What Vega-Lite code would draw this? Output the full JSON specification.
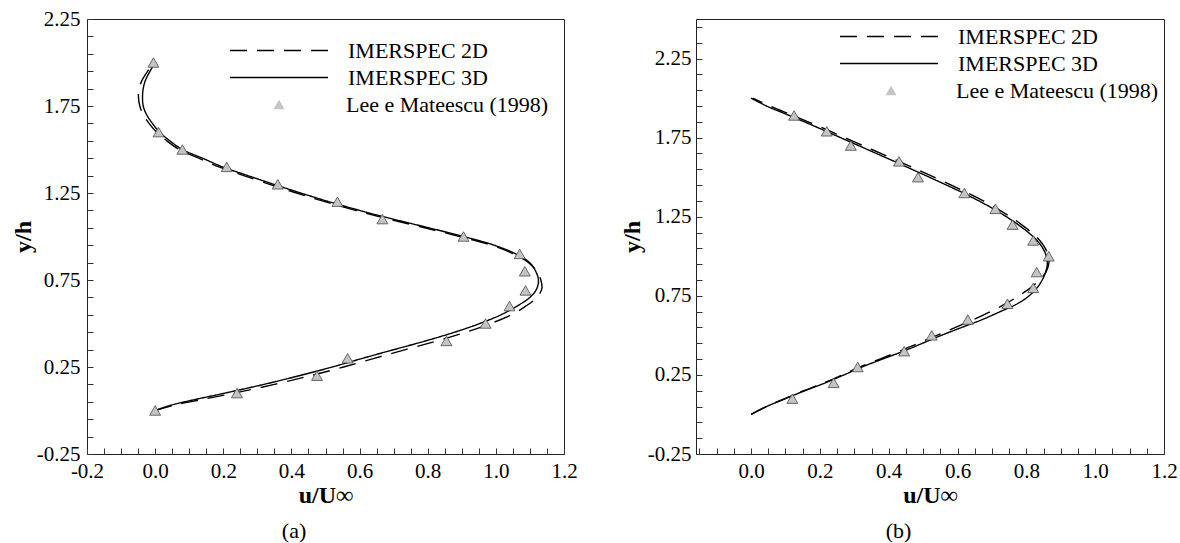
{
  "$schema": "https://vega.github.io/schema/vega-lite/v6.json",
  "padding": {"left": 10, "top": 7, "right": 5, "bottom": 5},
  "background": "white",
  "config": {
    "font": "Liberation Serif",
    "view": {"stroke": "#222222", "strokeWidth": 1},
    "axis": {"domain": false, "grid": false, "tickSize": -6, "tickColor": "#333333", "tickWidth": 1, "tickCount": 200,
      "labelFont": "Liberation Serif", "labelFontSize": 21, "labelColor": "#000000",
      "titleFont": "Liberation Serif", "titleFontSize": 24, "titleFontWeight": "bold", "titleColor": "#000000",
      "labelOverlap": false, "labelFlush": false},
    "legend": {"title": null, "orient": "none", "labelFont": "Liberation Serif", "labelFontSize": 22, "labelColor": "#000000", "labelLimit": 0, "padding": 0, "rowPadding": 0, "clipHeight": 27}
  },
  "datasets": {
    "a": [
      {"s":"IMERSPEC 3D","y":2.0,"u":0.0},{"s":"IMERSPEC 3D","y":1.95,"u":-0.015},{"s":"IMERSPEC 3D","y":1.9,"u":-0.028},{"s":"IMERSPEC 3D","y":1.85,"u":-0.035},{"s":"IMERSPEC 3D","y":1.8,"u":-0.037},{"s":"IMERSPEC 3D","y":1.75,"u":-0.035},{"s":"IMERSPEC 3D","y":1.7,"u":-0.025},{"s":"IMERSPEC 3D","y":1.65,"u":-0.008},{"s":"IMERSPEC 3D","y":1.6,"u":0.013},{"s":"IMERSPEC 3D","y":1.55,"u":0.043},{"s":"IMERSPEC 3D","y":1.5,"u":0.08},{"s":"IMERSPEC 3D","y":1.45,"u":0.139},{"s":"IMERSPEC 3D","y":1.4,"u":0.198},{"s":"IMERSPEC 3D","y":1.35,"u":0.272},{"s":"IMERSPEC 3D","y":1.3,"u":0.348},{"s":"IMERSPEC 3D","y":1.25,"u":0.427},{"s":"IMERSPEC 3D","y":1.2,"u":0.51},{"s":"IMERSPEC 3D","y":1.15,"u":0.6},{"s":"IMERSPEC 3D","y":1.1,"u":0.698},{"s":"IMERSPEC 3D","y":1.05,"u":0.803},{"s":"IMERSPEC 3D","y":1.0,"u":0.905},{"s":"IMERSPEC 3D","y":0.95,"u":0.995},{"s":"IMERSPEC 3D","y":0.9,"u":1.058},{"s":"IMERSPEC 3D","y":0.85,"u":1.099},{"s":"IMERSPEC 3D","y":0.8,"u":1.117},{"s":"IMERSPEC 3D","y":0.75,"u":1.125},{"s":"IMERSPEC 3D","y":0.7,"u":1.12},{"s":"IMERSPEC 3D","y":0.65,"u":1.1},{"s":"IMERSPEC 3D","y":0.6,"u":1.062},{"s":"IMERSPEC 3D","y":0.55,"u":1.015},{"s":"IMERSPEC 3D","y":0.5,"u":0.953},{"s":"IMERSPEC 3D","y":0.45,"u":0.879},{"s":"IMERSPEC 3D","y":0.4,"u":0.794},{"s":"IMERSPEC 3D","y":0.35,"u":0.701},{"s":"IMERSPEC 3D","y":0.3,"u":0.609},{"s":"IMERSPEC 3D","y":0.25,"u":0.52},{"s":"IMERSPEC 3D","y":0.2,"u":0.423},{"s":"IMERSPEC 3D","y":0.15,"u":0.319},{"s":"IMERSPEC 3D","y":0.1,"u":0.205},{"s":"IMERSPEC 3D","y":0.06,"u":0.11},{"s":"IMERSPEC 3D","y":0.03,"u":0.045},{"s":"IMERSPEC 3D","y":0.0,"u":0.0},
      {"s":"IMERSPEC 2D","y":2.0,"u":-0.003},{"s":"IMERSPEC 2D","y":1.95,"u":-0.022},{"s":"IMERSPEC 2D","y":1.9,"u":-0.038},{"s":"IMERSPEC 2D","y":1.85,"u":-0.047},{"s":"IMERSPEC 2D","y":1.8,"u":-0.049},{"s":"IMERSPEC 2D","y":1.75,"u":-0.045},{"s":"IMERSPEC 2D","y":1.7,"u":-0.035},{"s":"IMERSPEC 2D","y":1.65,"u":-0.018},{"s":"IMERSPEC 2D","y":1.6,"u":0.004},{"s":"IMERSPEC 2D","y":1.55,"u":0.034},{"s":"IMERSPEC 2D","y":1.5,"u":0.071},{"s":"IMERSPEC 2D","y":1.45,"u":0.128},{"s":"IMERSPEC 2D","y":1.4,"u":0.187},{"s":"IMERSPEC 2D","y":1.35,"u":0.26},{"s":"IMERSPEC 2D","y":1.3,"u":0.336},{"s":"IMERSPEC 2D","y":1.25,"u":0.415},{"s":"IMERSPEC 2D","y":1.2,"u":0.498},{"s":"IMERSPEC 2D","y":1.15,"u":0.588},{"s":"IMERSPEC 2D","y":1.1,"u":0.686},{"s":"IMERSPEC 2D","y":1.05,"u":0.791},{"s":"IMERSPEC 2D","y":1.0,"u":0.894},{"s":"IMERSPEC 2D","y":0.95,"u":0.987},{"s":"IMERSPEC 2D","y":0.9,"u":1.052},{"s":"IMERSPEC 2D","y":0.85,"u":1.096},{"s":"IMERSPEC 2D","y":0.8,"u":1.12},{"s":"IMERSPEC 2D","y":0.75,"u":1.132},{"s":"IMERSPEC 2D","y":0.7,"u":1.135},{"s":"IMERSPEC 2D","y":0.65,"u":1.12},{"s":"IMERSPEC 2D","y":0.6,"u":1.088},{"s":"IMERSPEC 2D","y":0.55,"u":1.045},{"s":"IMERSPEC 2D","y":0.5,"u":0.985},{"s":"IMERSPEC 2D","y":0.45,"u":0.912},{"s":"IMERSPEC 2D","y":0.4,"u":0.828},{"s":"IMERSPEC 2D","y":0.35,"u":0.735},{"s":"IMERSPEC 2D","y":0.3,"u":0.643},{"s":"IMERSPEC 2D","y":0.25,"u":0.553},{"s":"IMERSPEC 2D","y":0.2,"u":0.456},{"s":"IMERSPEC 2D","y":0.15,"u":0.35},{"s":"IMERSPEC 2D","y":0.1,"u":0.232},{"s":"IMERSPEC 2D","y":0.06,"u":0.128},{"s":"IMERSPEC 2D","y":0.03,"u":0.055},{"s":"IMERSPEC 2D","y":0.0,"u":0.0},
      {"s":"Lee e Mateescu (1998)","y":2.0,"u":-0.005},{"s":"Lee e Mateescu (1998)","y":1.6,"u":0.01},{"s":"Lee e Mateescu (1998)","y":1.5,"u":0.08},{"s":"Lee e Mateescu (1998)","y":1.4,"u":0.21},{"s":"Lee e Mateescu (1998)","y":1.3,"u":0.36},{"s":"Lee e Mateescu (1998)","y":1.2,"u":0.535},{"s":"Lee e Mateescu (1998)","y":1.1,"u":0.667},{"s":"Lee e Mateescu (1998)","y":1.0,"u":0.905},{"s":"Lee e Mateescu (1998)","y":0.9,"u":1.07},{"s":"Lee e Mateescu (1998)","y":0.8,"u":1.085},{"s":"Lee e Mateescu (1998)","y":0.69,"u":1.087},{"s":"Lee e Mateescu (1998)","y":0.6,"u":1.04},{"s":"Lee e Mateescu (1998)","y":0.5,"u":0.97},{"s":"Lee e Mateescu (1998)","y":0.4,"u":0.855},{"s":"Lee e Mateescu (1998)","y":0.3,"u":0.565},{"s":"Lee e Mateescu (1998)","y":0.2,"u":0.475},{"s":"Lee e Mateescu (1998)","y":0.1,"u":0.24},{"s":"Lee e Mateescu (1998)","y":0.0,"u":0.0}
    ],
    "b": [
      {"s":"IMERSPEC 3D","y":2.0,"u":0.0},{"s":"IMERSPEC 3D","y":1.95,"u":0.045},{"s":"IMERSPEC 3D","y":1.9,"u":0.1},{"s":"IMERSPEC 3D","y":1.85,"u":0.155},{"s":"IMERSPEC 3D","y":1.8,"u":0.208},{"s":"IMERSPEC 3D","y":1.75,"u":0.26},{"s":"IMERSPEC 3D","y":1.7,"u":0.312},{"s":"IMERSPEC 3D","y":1.65,"u":0.364},{"s":"IMERSPEC 3D","y":1.6,"u":0.416},{"s":"IMERSPEC 3D","y":1.55,"u":0.467},{"s":"IMERSPEC 3D","y":1.5,"u":0.518},{"s":"IMERSPEC 3D","y":1.45,"u":0.568},{"s":"IMERSPEC 3D","y":1.4,"u":0.617},{"s":"IMERSPEC 3D","y":1.35,"u":0.662},{"s":"IMERSPEC 3D","y":1.3,"u":0.704},{"s":"IMERSPEC 3D","y":1.25,"u":0.742},{"s":"IMERSPEC 3D","y":1.2,"u":0.776},{"s":"IMERSPEC 3D","y":1.15,"u":0.806},{"s":"IMERSPEC 3D","y":1.1,"u":0.831},{"s":"IMERSPEC 3D","y":1.05,"u":0.848},{"s":"IMERSPEC 3D","y":1.0,"u":0.858},{"s":"IMERSPEC 3D","y":0.95,"u":0.861},{"s":"IMERSPEC 3D","y":0.9,"u":0.856},{"s":"IMERSPEC 3D","y":0.85,"u":0.846},{"s":"IMERSPEC 3D","y":0.8,"u":0.831},{"s":"IMERSPEC 3D","y":0.75,"u":0.808},{"s":"IMERSPEC 3D","y":0.7,"u":0.774},{"s":"IMERSPEC 3D","y":0.65,"u":0.724},{"s":"IMERSPEC 3D","y":0.6,"u":0.672},{"s":"IMERSPEC 3D","y":0.55,"u":0.612},{"s":"IMERSPEC 3D","y":0.5,"u":0.553},{"s":"IMERSPEC 3D","y":0.45,"u":0.498},{"s":"IMERSPEC 3D","y":0.4,"u":0.443},{"s":"IMERSPEC 3D","y":0.35,"u":0.382},{"s":"IMERSPEC 3D","y":0.3,"u":0.322},{"s":"IMERSPEC 3D","y":0.25,"u":0.27},{"s":"IMERSPEC 3D","y":0.2,"u":0.216},{"s":"IMERSPEC 3D","y":0.15,"u":0.156},{"s":"IMERSPEC 3D","y":0.1,"u":0.1},{"s":"IMERSPEC 3D","y":0.05,"u":0.045},{"s":"IMERSPEC 3D","y":0.0,"u":0.0},
      {"s":"IMERSPEC 2D","y":2.0,"u":0.005},{"s":"IMERSPEC 2D","y":1.95,"u":0.055},{"s":"IMERSPEC 2D","y":1.9,"u":0.11},{"s":"IMERSPEC 2D","y":1.85,"u":0.166},{"s":"IMERSPEC 2D","y":1.8,"u":0.22},{"s":"IMERSPEC 2D","y":1.75,"u":0.272},{"s":"IMERSPEC 2D","y":1.7,"u":0.325},{"s":"IMERSPEC 2D","y":1.65,"u":0.377},{"s":"IMERSPEC 2D","y":1.6,"u":0.43},{"s":"IMERSPEC 2D","y":1.55,"u":0.481},{"s":"IMERSPEC 2D","y":1.5,"u":0.532},{"s":"IMERSPEC 2D","y":1.45,"u":0.582},{"s":"IMERSPEC 2D","y":1.4,"u":0.63},{"s":"IMERSPEC 2D","y":1.35,"u":0.675},{"s":"IMERSPEC 2D","y":1.3,"u":0.716},{"s":"IMERSPEC 2D","y":1.25,"u":0.753},{"s":"IMERSPEC 2D","y":1.2,"u":0.786},{"s":"IMERSPEC 2D","y":1.15,"u":0.815},{"s":"IMERSPEC 2D","y":1.1,"u":0.839},{"s":"IMERSPEC 2D","y":1.05,"u":0.855},{"s":"IMERSPEC 2D","y":1.0,"u":0.864},{"s":"IMERSPEC 2D","y":0.95,"u":0.865},{"s":"IMERSPEC 2D","y":0.9,"u":0.857},{"s":"IMERSPEC 2D","y":0.85,"u":0.838},{"s":"IMERSPEC 2D","y":0.8,"u":0.812},{"s":"IMERSPEC 2D","y":0.75,"u":0.778},{"s":"IMERSPEC 2D","y":0.7,"u":0.74},{"s":"IMERSPEC 2D","y":0.65,"u":0.695},{"s":"IMERSPEC 2D","y":0.6,"u":0.647},{"s":"IMERSPEC 2D","y":0.55,"u":0.594},{"s":"IMERSPEC 2D","y":0.5,"u":0.54},{"s":"IMERSPEC 2D","y":0.45,"u":0.486},{"s":"IMERSPEC 2D","y":0.4,"u":0.432},{"s":"IMERSPEC 2D","y":0.35,"u":0.374},{"s":"IMERSPEC 2D","y":0.3,"u":0.316},{"s":"IMERSPEC 2D","y":0.25,"u":0.265},{"s":"IMERSPEC 2D","y":0.2,"u":0.212},{"s":"IMERSPEC 2D","y":0.15,"u":0.153},{"s":"IMERSPEC 2D","y":0.1,"u":0.098},{"s":"IMERSPEC 2D","y":0.05,"u":0.044},{"s":"IMERSPEC 2D","y":0.0,"u":0.0},
      {"s":"Lee e Mateescu (1998)","y":1.89,"u":0.125},{"s":"Lee e Mateescu (1998)","y":1.79,"u":0.22},{"s":"Lee e Mateescu (1998)","y":1.7,"u":0.29},{"s":"Lee e Mateescu (1998)","y":1.6,"u":0.43},{"s":"Lee e Mateescu (1998)","y":1.5,"u":0.485},{"s":"Lee e Mateescu (1998)","y":1.4,"u":0.62},{"s":"Lee e Mateescu (1998)","y":1.3,"u":0.71},{"s":"Lee e Mateescu (1998)","y":1.2,"u":0.76},{"s":"Lee e Mateescu (1998)","y":1.1,"u":0.82},{"s":"Lee e Mateescu (1998)","y":1.0,"u":0.865},{"s":"Lee e Mateescu (1998)","y":0.9,"u":0.83},{"s":"Lee e Mateescu (1998)","y":0.8,"u":0.82},{"s":"Lee e Mateescu (1998)","y":0.7,"u":0.745},{"s":"Lee e Mateescu (1998)","y":0.6,"u":0.63},{"s":"Lee e Mateescu (1998)","y":0.5,"u":0.525},{"s":"Lee e Mateescu (1998)","y":0.4,"u":0.445},{"s":"Lee e Mateescu (1998)","y":0.3,"u":0.31},{"s":"Lee e Mateescu (1998)","y":0.2,"u":0.24},{"s":"Lee e Mateescu (1998)","y":0.1,"u":0.12}
    ]
  },
  "bounds": "flush",
  "spacing": 132,
  "resolve": {"scale": {"x": "independent", "y": "independent", "strokeDash": "independent", "shape": "independent"}, "legend": {"strokeDash": "independent", "shape": "independent"}},
  "hconcat": [
    {
      "width": 477, "height": 435,
      "data": {"name": "a"},
      "title": {"text": "(a)", "orient": "bottom", "anchor": "middle", "frame": "bounds", "font": "Liberation Serif", "fontSize": 22, "fontWeight": "normal", "color": "#000000", "offset": 14},
      "layer": [
        {
          "transform": [{"filter": "datum.s !== 'Lee e Mateescu (1998)'"}],
          "mark": {"type": "line", "color": "#000000", "strokeWidth": 1.4, "interpolate": "catmull-rom"},
          "encoding": {
            "x": {"field": "u", "type": "quantitative", "title": "u/U∞",
              "scale": {"domain": [-0.2, 1.2], "nice": false, "zero": false},
              "axis": {"values": [-0.2,-0.15,-0.1,-0.05,0,0.05,0.1,0.15,0.2,0.25,0.3,0.35,0.4,0.45,0.5,0.55,0.6,0.65,0.7,0.75,0.8,0.85,0.9,0.95,1,1.05,1.1,1.15,1.2],
                "labelExpr": "abs(datum.value/0.2 - round(datum.value/0.2)) < 0.01 ? replace(format(datum.value, '.1f'), '−', '-') : ''",
                "tickCount": 200, "labelOverlap": false, "labelFlush": false, "labelPadding": 12, "titlePadding": 2}},
            "y": {"field": "y", "type": "quantitative", "title": "y/h",
              "scale": {"domain": [-0.25, 2.25], "nice": false, "zero": false},
              "axis": {"values": [-0.25,-0.15,-0.05,0.05,0.15,0.25,0.35,0.45,0.55,0.65,0.75,0.85,0.95,1.05,1.15,1.25,1.35,1.45,1.55,1.65,1.75,1.85,1.95,2.05,2.15,2.25],
                "labelExpr": "abs((datum.value+0.25)/0.5 - round((datum.value+0.25)/0.5)) < 0.01 ? replace(format(datum.value, '.2f'), '−', '-') : ''",
                "tickCount": 200, "labelOverlap": false, "labelFlush": false, "labelPadding": 13, "minExtent": 50, "maxExtent": 50, "titlePadding": 2}},
            "order": {"field": "y", "type": "quantitative"},
            "strokeDash": {"field": "s", "type": "nominal",
              "scale": {"domain": ["IMERSPEC 2D", "IMERSPEC 3D"], "range": [[17, 10], [1, 0]]},
              "legend": {"legendX": 142, "legendY": 18, "symbolType": "stroke", "symbolSize": 9604, "symbolStrokeColor": "#000000", "symbolStrokeWidth": 1.4, "labelOffset": 19, "symbolOffset": 0}}
          }
        },
        {
          "transform": [{"filter": "datum.s === 'Lee e Mateescu (1998)'"}],
          "mark": {"type": "point", "filled": true, "fill": "#c4c4c4", "stroke": "#4a4a4a", "strokeWidth": 0.8, "size": 120, "opacity": 1},
          "encoding": {
            "x": {"field": "u", "type": "quantitative"},
            "y": {"field": "y", "type": "quantitative"},
            "shape": {"field": "s", "type": "nominal", "scale": {"range": ["triangle-up"]},
              "legend": {"legendX": 181, "legendY": 72, "symbolType": "triangle-up", "symbolSize": 120, "symbolFillColor": "#c4c4c4", "symbolStrokeColor": "#4a4a4a", "symbolStrokeWidth": 0.8, "labelOffset": 56, "symbolOffset": 0,
                "encode": {"symbols": {"update": {"stroke": {"value": "#4a4a4a"}, "strokeWidth": {"value": 0.8}, "fill": {"value": "#c4c4c4"}, "opacity": {"value": 1}}}}}}
          }
        }
      ]
    },
    {
      "width": 468, "height": 435,
      "data": {"name": "b"},
      "title": {"text": "(b)", "orient": "bottom", "anchor": "middle", "frame": "bounds", "font": "Liberation Serif", "fontSize": 22, "fontWeight": "normal", "color": "#000000", "offset": 14},
      "layer": [
        {
          "transform": [{"filter": "datum.s !== 'Lee e Mateescu (1998)'"}],
          "mark": {"type": "line", "color": "#000000", "strokeWidth": 1.4, "interpolate": "catmull-rom"},
          "encoding": {
            "x": {"field": "u", "type": "quantitative", "title": "u/U∞",
              "scale": {"domain": [-0.16, 1.2], "nice": false, "zero": false},
              "axis": {"values": [-0.15,-0.1,-0.05,0,0.05,0.1,0.15,0.2,0.25,0.3,0.35,0.4,0.45,0.5,0.55,0.6,0.65,0.7,0.75,0.8,0.85,0.9,0.95,1,1.05,1.1,1.15,1.2],
                "labelExpr": "abs(datum.value/0.2 - round(datum.value/0.2)) < 0.01 ? replace(format(datum.value, '.1f'), '−', '-') : ''",
                "tickCount": 200, "labelOverlap": false, "labelFlush": false, "labelPadding": 12, "titlePadding": 2}},
            "y": {"field": "y", "type": "quantitative", "title": "y/h",
              "scale": {"domain": [-0.25, 2.5], "nice": false, "zero": false},
              "axis": {"values": [-0.25,-0.15,-0.05,0.05,0.15,0.25,0.35,0.45,0.55,0.65,0.75,0.85,0.95,1.05,1.15,1.25,1.35,1.45,1.55,1.65,1.75,1.85,1.95,2.05,2.15,2.25,2.35,2.45],
                "labelExpr": "abs((datum.value+0.25)/0.5 - round((datum.value+0.25)/0.5)) < 0.01 ? replace(format(datum.value, '.2f'), '−', '-') : ''",
                "tickCount": 200, "labelOverlap": false, "labelFlush": false, "labelPadding": 11, "minExtent": 50, "maxExtent": 50, "titlePadding": 2}},
            "order": {"field": "y", "type": "quantitative"},
            "strokeDash": {"field": "s", "type": "nominal",
              "scale": {"domain": ["IMERSPEC 2D", "IMERSPEC 3D"], "range": [[17, 10], [1, 0]]},
              "legend": {"legendX": 143, "legendY": 4, "symbolType": "stroke", "symbolSize": 9604, "symbolStrokeColor": "#000000", "symbolStrokeWidth": 1.4, "labelOffset": 19, "symbolOffset": 0}}
          }
        },
        {
          "transform": [{"filter": "datum.s === 'Lee e Mateescu (1998)'"}],
          "mark": {"type": "point", "filled": true, "fill": "#c4c4c4", "stroke": "#4a4a4a", "strokeWidth": 0.8, "size": 120, "opacity": 1},
          "encoding": {
            "x": {"field": "u", "type": "quantitative"},
            "y": {"field": "y", "type": "quantitative"},
            "shape": {"field": "s", "type": "nominal", "scale": {"range": ["triangle-up"]},
              "legend": {"legendX": 184, "legendY": 58, "symbolType": "triangle-up", "symbolSize": 120, "symbolFillColor": "#c4c4c4", "symbolStrokeColor": "#4a4a4a", "symbolStrokeWidth": 0.8, "labelOffset": 54, "symbolOffset": 0,
                "encode": {"symbols": {"update": {"stroke": {"value": "#4a4a4a"}, "strokeWidth": {"value": 0.8}, "fill": {"value": "#c4c4c4"}, "opacity": {"value": 1}}}}}}
          }
        }
      ]
    }
  ]
}
